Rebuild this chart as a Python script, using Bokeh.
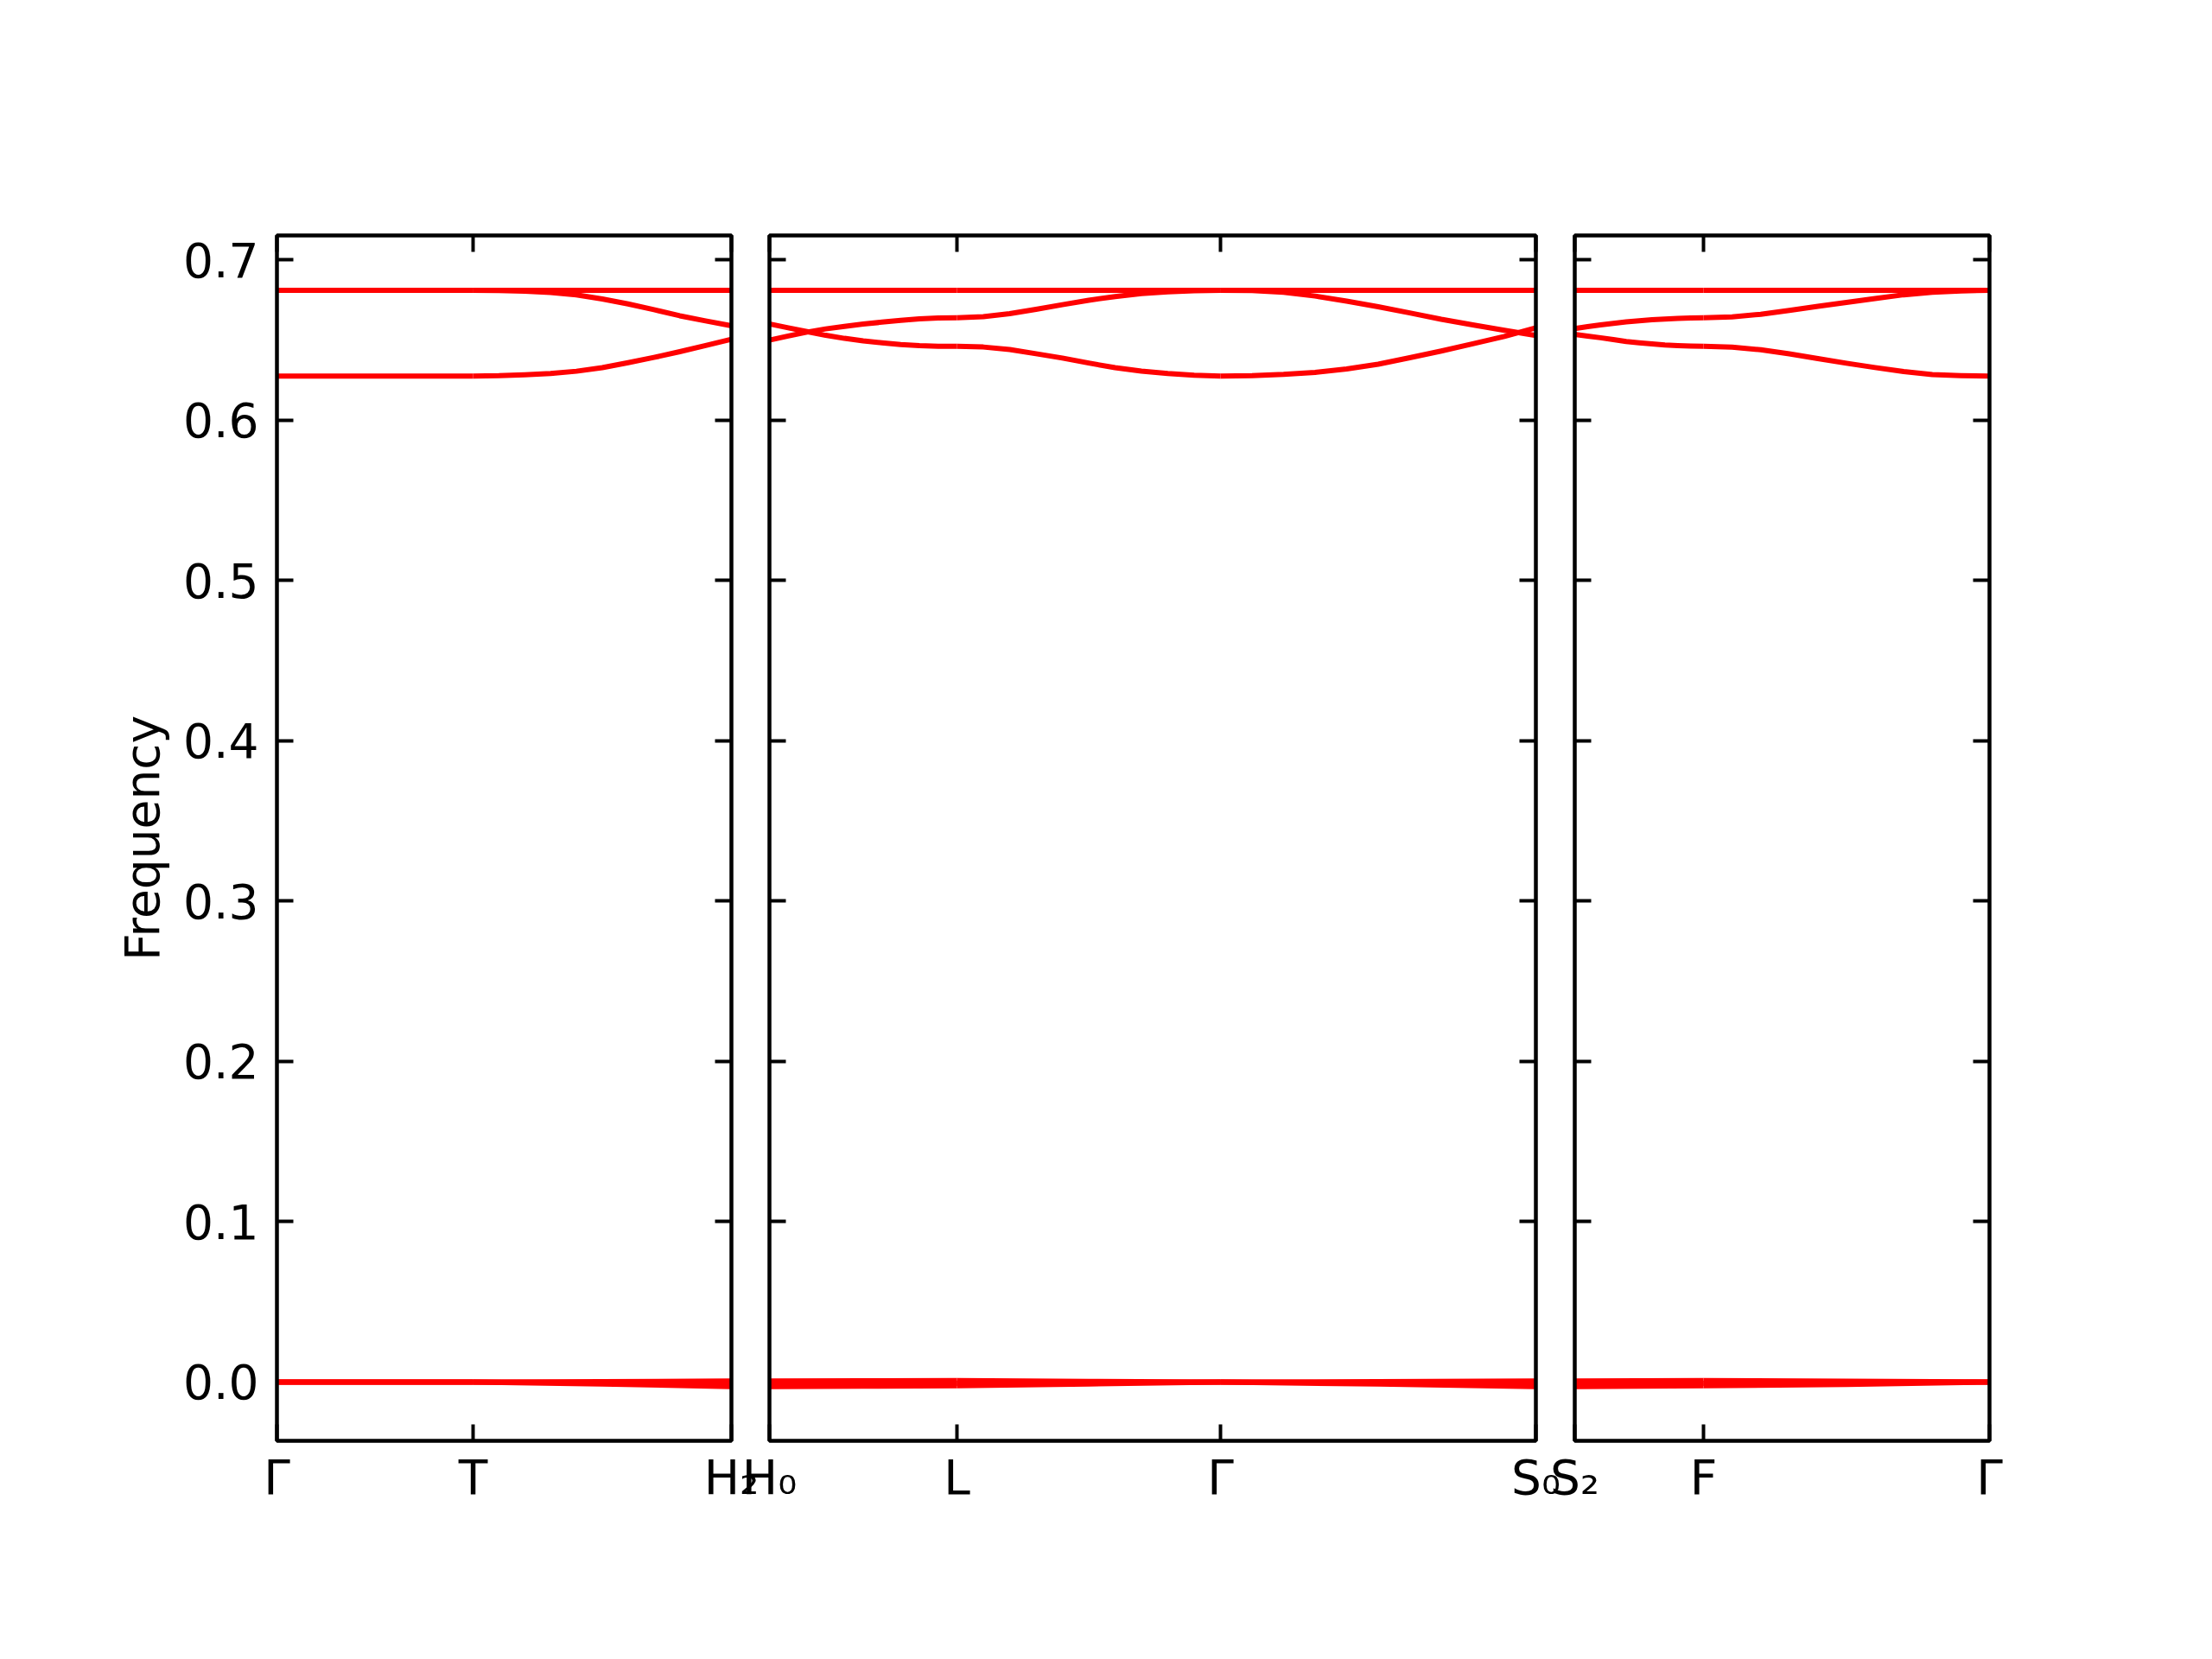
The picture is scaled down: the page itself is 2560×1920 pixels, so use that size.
from bokeh.plotting import figure
from bokeh.models import Range1d, FixedTicker, LinearAxis, BoxAnnotation, AllLabels
from bokeh.embed import file_html
from bokeh.resources import INLINE

# ---------------- data ----------------
# band path: segments between high-symmetry points (reciprocal-space lengths)
segment_start_labels = ["Γ", "T", "H₀", "L", "Γ", "S₂", "F"]
segment_end_labels = ["T", "H₂", "L", "Γ", "S₀", "F", "Γ"]
segment_lengths = [0.227, 0.299, 0.217, 0.305, 0.365, 0.149, 0.331]
panel_segments = [[0, 1], [2, 3, 4], [5, 6]]

y_ticks = [0.0, 0.1, 0.2, 0.3, 0.4, 0.5, 0.6, 0.7]
y_tick_labels = ["0.0", "0.1", "0.2", "0.3", "0.4", "0.5", "0.6", "0.7"]
y_start, y_end = -0.0367, 0.7153

# frequencies sampled at evenly spaced points along each segment
optical_top = [
    [0.6811, 0.6811],
    [0.6811, 0.6811],
    [0.6811, 0.6811],
    [0.6811, 0.6811],
    [0.6811, 0.6811],
    [0.6811, 0.6811],
    [0.6811, 0.6811],
]
optical_mid = [
    [0.6811, 0.6811],
    [0.6811, 0.6810, 0.6805, 0.6797, 0.6782, 0.6757, 0.6726, 0.6690, 0.6652, 0.6620, 0.6590],
    [0.6601, 0.6577, 0.6553, 0.6530, 0.6511, 0.6495, 0.6483, 0.6473, 0.6466, 0.6462, 0.6461],
    [0.6640, 0.6646, 0.6665, 0.6692, 0.6721, 0.6749, 0.6772, 0.6790, 0.6801, 0.6808, 0.6811],
    [0.6811, 0.6809, 0.6799, 0.6775, 0.6743, 0.6708, 0.6670, 0.6630, 0.6595, 0.6561, 0.6529],
    [0.6572, 0.6584, 0.6595, 0.6605, 0.6614, 0.6621, 0.6627, 0.6631, 0.6635, 0.6638, 0.6640],
    [0.6640, 0.6645, 0.6661, 0.6685, 0.6711, 0.6735, 0.6759, 0.6783, 0.6798, 0.6807, 0.6811],
]
optical_low = [
    [0.6276, 0.6276],
    [0.6276, 0.6278, 0.6284, 0.6292, 0.6306, 0.6328, 0.6359, 0.6392, 0.6428, 0.6466, 0.6505],
    [0.6500, 0.6526, 0.6550, 0.6570, 0.6586, 0.6600, 0.6612, 0.6623, 0.6633, 0.6638, 0.6640],
    [0.6461, 0.6457, 0.6441, 0.6415, 0.6388, 0.6357, 0.6328, 0.6307, 0.6292, 0.6281, 0.6276],
    [0.6276, 0.6278, 0.6286, 0.6299, 0.6320, 0.6350, 0.6390, 0.6432, 0.6477, 0.6523, 0.6577],
    [0.6536, 0.6525, 0.6515, 0.6503, 0.6491, 0.6483, 0.6476, 0.6470, 0.6466, 0.6463, 0.6461],
    [0.6461, 0.6456, 0.6440, 0.6414, 0.6385, 0.6356, 0.6329, 0.6304, 0.6285, 0.6279, 0.6276],
]
acoustic_1 = [
    [0.0, 0.0],
    [0.0, 0.0002, 0.0006],
    [0.0006, 0.0008, 0.0009],
    [0.0009, 0.0004, 0.0],
    [0.0, 0.0002, 0.0006],
    [0.0006, 0.0008, 0.0009],
    [0.0009, 0.0005, 0.0],
]
acoustic_2 = [
    [0.0, 0.0],
    [0.0, -0.0004, -0.0010],
    [-0.0010, -0.0009, -0.0008],
    [-0.0008, -0.0004, 0.0],
    [0.0, -0.0005, -0.0012],
    [-0.0012, -0.0010, -0.0008],
    [-0.0008, -0.0005, 0.0],
]
acoustic_3 = [
    [0.0, 0.0],
    [0.0, -0.0012, -0.0029],
    [-0.0029, -0.0026, -0.0024],
    [-0.0024, -0.0012, 0.0],
    [0.0, -0.0013, -0.0029],
    [-0.0029, -0.0026, -0.0024],
    [-0.0024, -0.0015, 0.0],
]
bands = [optical_top, optical_mid, optical_low, acoustic_1, acoustic_2, acoustic_3]

# ---------------- layout constants ----------------
panel_gaps = [0.044, 0.045]          # empty space between panels (x units)
FONT = "DejaVu Sans"
FS = "55px"
RED = "#ff0000"
TICK_LEN = 19
TICK_W = 4
FRAME_W = 4.5
PAD = 6                              # px of empty frame margin around the panels
PANEL_W_PX, PANEL_H_PX = 1982, 1395  # drawing area spanned by the panels

# x offsets of segments and panel bounds
seg_x0 = {}
panel_bounds = []
x = 0.0
for pi, segs in enumerate(panel_segments):
    if pi > 0:
        x += panel_gaps[pi - 1]
    left = x
    for s in segs:
        seg_x0[s] = x
        x += segment_lengths[s]
    panel_bounds.append((left, x))
x_left, x_right = panel_bounds[0][0], x

x_tick_pos = []
x_tick_lab = {}
for s in range(len(segment_lengths)):
    a = seg_x0[s]
    b = seg_x0[s] + segment_lengths[s]
    for pos, lab in ((a, segment_start_labels[s]), (b, segment_end_labels[s])):
        if pos not in x_tick_lab:
            x_tick_pos.append(pos)
            x_tick_lab[pos] = lab

pad_x = (x_right - x_left) * PAD / PANEL_W_PX
pad_y = (y_end - y_start) * PAD / PANEL_H_PX

p = figure(width=2542, height=1907, title=None,
           x_range=Range1d(x_left - pad_x, x_right + pad_x),
           y_range=Range1d(y_start - pad_y, y_end + pad_y),
           output_backend="svg", toolbar_location=None,
           min_border_left=320 - PAD, min_border_right=240 - PAD,
           min_border_top=272 - PAD, min_border_bottom=240 - PAD)
p.xgrid.visible = False
p.ygrid.visible = False
p.outline_line_color = None
p.background_fill_color = "white"
p.border_fill_color = "white"

# band lines
xs, ys = [], []
for band in bands:
    for s, vals in enumerate(band):
        n = len(vals)
        L = segment_lengths[s]
        xs.append([seg_x0[s] + L * i / (n - 1) for i in range(n)])
        ys.append(list(vals))
p.multi_line(xs, ys, line_color=RED, line_width=6, line_join="round", level="overlay")


def tick_style(ax):
    ax.major_tick_in = TICK_LEN
    ax.major_tick_out = 0
    ax.minor_tick_in = 0
    ax.minor_tick_out = 0
    ax.minor_tick_line_color = None
    ax.major_tick_line_width = TICK_W
    ax.major_tick_line_color = "black"
    ax.axis_line_color = None


def tick_only_axis(ticks, loc):
    ax = LinearAxis(ticker=FixedTicker(ticks=ticks), fixed_location=loc)
    tick_style(ax)
    ax.major_label_text_color = None
    ax.major_label_text_alpha = 0
    ax.major_label_text_font_size = "1px"
    ax.major_label_standoff = 0
    ax.axis_label = None
    return ax


def label_style(ax):
    ax.major_tick_in = 0
    ax.major_tick_out = 0
    ax.minor_tick_in = 0
    ax.minor_tick_out = 0
    ax.major_tick_line_color = None
    ax.minor_tick_line_color = None
    ax.axis_line_color = None
    ax.major_label_policy = AllLabels()
    ax.major_label_text_font = FONT
    ax.major_label_text_color = "black"
    ax.major_label_text_font_size = FS


# main left y axis: labels only (its ticks are drawn by a fixed axis at the panel edge)
ly = p.left[0]
ly.ticker = FixedTicker(ticks=y_ticks)
ly.major_label_overrides = dict(zip(y_ticks, y_tick_labels))
label_style(ly)
ly.major_label_standoff = 21 - PAD
ly.axis_label = "Frequency"
ly.axis_label_text_font = FONT
ly.axis_label_text_font_size = FS
ly.axis_label_text_font_style = "normal"
ly.axis_label_text_color = "black"
ly.axis_label_standoff = 12

# bottom x axis: high-symmetry labels
bx = p.below[0]
bx.ticker = FixedTicker(ticks=x_tick_pos)
bx.major_label_overrides = {k: v for k, v in x_tick_lab.items()}
label_style(bx)
bx.major_label_standoff = 10 - PAD

# tick marks on every panel edge
p.add_layout(tick_only_axis(x_tick_pos, y_start), "below")
p.add_layout(tick_only_axis(x_tick_pos, y_end), "above")
for pi, (lft, rgt) in enumerate(panel_bounds):
    p.add_layout(tick_only_axis(y_ticks, lft), "left")
    p.add_layout(tick_only_axis(y_ticks, rgt), "right")

# panel frames
for lft, rgt in panel_bounds:
    p.add_layout(BoxAnnotation(left=lft, right=rgt, bottom=y_start, top=y_end,
                               fill_color=None, fill_alpha=0,
                               line_color="black", line_alpha=1.0,
                               line_width=FRAME_W, level="overlay"))

open("out.html", "w").write(file_html(p, INLINE))
